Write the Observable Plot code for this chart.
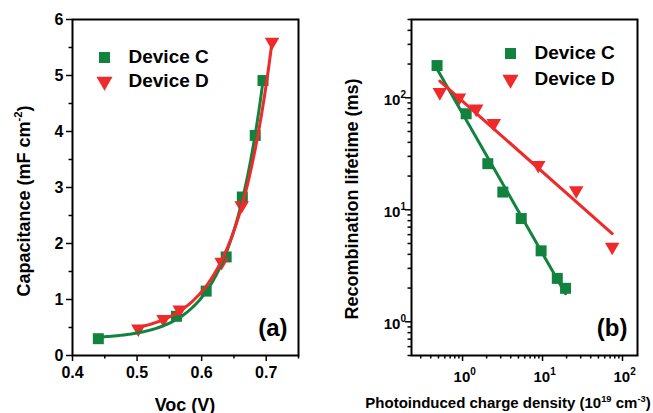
<!DOCTYPE html>
<html><head><meta charset="utf-8">
<script src="https://cdn.jsdelivr.net/npm/d3@7"></script>
<script src="https://cdn.jsdelivr.net/npm/@observablehq/plot@0.6"></script>
<style>
html,body{margin:0;padding:0;background:#fff;}
#wrap{position:relative;width:653px;height:413px;overflow:hidden;}
#wrap svg{position:absolute;top:0;background:transparent;}
</style></head><body><div id="wrap"></div>
<script>
// ---- data ----
const seriesNames = ["Device C", "Device D"];
// panel (a): capacitance vs Voc
const vocC = [0.440, 0.561, 0.607, 0.638, 0.663, 0.683, 0.695];
const capC = [0.30, 0.70, 1.15, 1.76, 2.83, 3.93, 4.91];
const vocD = [0.502, 0.541, 0.566, 0.631, 0.662, 0.709];
const capD = [0.48, 0.65, 0.82, 1.67, 2.68, 5.60];
// panel (b): recombination lifetime vs photoinduced charge density
const densC = [0.48, 1.11, 2.07, 3.19, 5.42, 9.6, 15.3, 19.4];
const lifeC = [194, 72, 25.8, 14.4, 8.35, 4.3, 2.44, 1.99];
const densD = [0.52, 0.90, 1.48, 2.46, 8.84, 26.4, 74.3];
const lifeD = [112, 100, 79.8, 59.4, 25, 14.9, 4.66];
// ticks
const xTicksA = [0.4, 0.5, 0.6, 0.7];
const xMinorA = [0.45, 0.55, 0.65, 0.75];
const yTicksA = [0, 1, 2, 3, 4, 5, 6];
const yMinorA = [0.5, 1.5, 2.5, 3.5, 4.5, 5.5];
const decadesX = [1, 10, 100];
const decadesY = [1, 10, 100];

const green = "#12833f", red = "#ee2a2a";
const font = '"Liberation Sans", Arial, Helvetica, sans-serif';

const rowsC_A = vocC.map((v, i) => ({x: v, y: capC[i]}));
const rowsD_A = vocD.map((v, i) => ({x: v, y: capD[i]}));
const rowsC_B = densC.map((v, i) => ({x: v, y: lifeC[i]}));
const rowsD_B = densD.map((v, i) => ({x: v, y: lifeD[i]}));

// exponential fit  y = a + b*exp(x/t)  (least squares, grid over t)
function expFit(xs, ys) {
  let best = null;
  for (let t = 0.01; t <= 0.3; t += 0.0005) {
    const e = xs.map(x => Math.exp(x / t));
    const me = d3.mean(e), my = d3.mean(ys);
    let sxy = 0, sxx = 0;
    e.forEach((ei, i) => { sxy += (ei - me) * (ys[i] - my); sxx += (ei - me) ** 2; });
    const b = sxy / sxx, a = my - b * me;
    const sse = d3.sum(e, (ei, i) => (a + b * ei - ys[i]) ** 2);
    if (!best || sse < best.sse) best = {a, b, t, sse};
  }
  const lo = d3.min(xs), hi = d3.max(xs);
  return d3.range(121).map(i => {
    const x = lo + (hi - lo) * i / 120;
    return {x, y: best.a + best.b * Math.exp(x / best.t)};
  });
}
// power-law fit (linear regression in log-log space)
function powFit(xs, ys) {
  const lx = xs.map(Math.log10), ly = ys.map(Math.log10);
  const mx = d3.mean(lx), my = d3.mean(ly);
  let sxy = 0, sxx = 0;
  lx.forEach((v, i) => { sxy += (v - mx) * (ly[i] - my); sxx += (v - mx) ** 2; });
  const s = sxy / sxx;
  return [d3.min(xs), d3.max(xs)].map(x => ({x, y: 10 ** (my + s * (Math.log10(x) - mx))}));
}

const fitCA = expFit(vocC, capC), fitDA = expFit(vocD, capD);
const fitCB = powFit(densC, lifeC), fitDB = powFit(densD, lifeD);

const sqR = 6.2, triR = 5.4;

function legendMarks(dx, dyC, dyD, tdx) {
  return [
    Plot.dot([0], {frameAnchor: "top-left", dx, dy: dyC, symbol: "square", r: sqR, fill: green}),
    Plot.dot([0], {frameAnchor: "top-left", dx, dy: dyD, symbol: "triangle", rotate: 180, r: triR + 0.6, fill: red}),
    Plot.text([seriesNames[0]], {frameAnchor: "top-left", dx: tdx, dy: dyC - 1, text: d => d, textAnchor: "start", lineAnchor: "middle", fontSize: 19, fontWeight: "bold", fontFamily: font, fill: "black"}),
    Plot.text([seriesNames[1]], {frameAnchor: "top-left", dx: tdx, dy: dyD - 1, text: d => d, textAnchor: "start", lineAnchor: "middle", fontSize: 19, fontWeight: "bold", fontFamily: font, fill: "black"})
  ];
}

const axisStyle = {strokeWidth: 1.5, fontFamily: font, fontWeight: "bold", fontSize: 16, fill: "black", label: null};
const tickOnly = {strokeWidth: 1.5, fill: "none", label: null};

const plotA = Plot.plot({
  width: 330, height: 413,
  marginLeft: 72, marginRight: 32, marginTop: 19, marginBottom: 58,
  style: {fontFamily: font, background: "transparent"},
  x: {domain: [0.4, 0.75], label: null},
  y: {domain: [0, 6], label: null},
  marks: [
    Plot.axisX(xMinorA, {...tickOnly, tickSize: 3.5}),
    Plot.axisX(xTicksA, {...axisStyle, tickSize: 6, tickPadding: 5, tickFormat: d3.format(".1f")}),
    Plot.axisY(yMinorA, {...tickOnly, tickSize: 3.5}),
    Plot.axisY(yTicksA, {...axisStyle, tickSize: 6, tickPadding: 3, tickFormat: d3.format("d")}),
    Plot.dot(rowsC_A, {x: "x", y: "y", symbol: "square", r: sqR, fill: green}),
    Plot.dot(rowsD_A, {x: "x", y: "y", symbol: "triangle", rotate: 180, r: triR, fill: red}),
    Plot.line(fitCA, {x: "x", y: "y", stroke: green, strokeWidth: 3}),
    Plot.line(fitDA, {x: "x", y: "y", stroke: red, strokeWidth: 3}),
    Plot.frame({stroke: "black", strokeWidth: 2}),
    ...legendMarks(32, 38, 62, 56),
    Plot.text(["(a)"], {frameAnchor: "bottom-right", dx: -11, dy: -27, text: d => d, textAnchor: "end", lineAnchor: "middle", fontSize: 24, fontWeight: "bold", fontFamily: font, fill: "black"})
  ]
});

const minorLog = (dom) => [0.1, 1, 10, 100].flatMap(d => d3.range(2, 10).map(k => +(k * d).toPrecision(3))).filter(v => v >= dom[0] && v <= dom[1]);
const xDomB = [0.23, 154], yDomB = [0.5, 500];

const plotB = Plot.plot({
  width: 323, height: 413,
  marginLeft: 81, marginRight: 16, marginTop: 19, marginBottom: 58,
  style: {fontFamily: font, background: "transparent"},
  x: {type: "log", domain: xDomB, label: null},
  y: {type: "log", domain: yDomB, label: null},
  marks: [
    Plot.axisX(minorLog(xDomB), {...tickOnly, tickSize: 3.5}),
    Plot.axisX(decadesX, {...tickOnly, tickSize: 6}),
    Plot.axisY(minorLog(yDomB), {...tickOnly, tickSize: 3.5}),
    Plot.axisY(decadesY, {...tickOnly, tickSize: 6}),
    Plot.dot(rowsC_B, {x: "x", y: "y", symbol: "square", r: sqR, fill: green}),
    Plot.dot(rowsD_B, {x: "x", y: "y", symbol: "triangle", rotate: 180, r: triR, fill: red}),
    Plot.line(fitCB, {x: "x", y: "y", stroke: green, strokeWidth: 3}),
    Plot.line(fitDB, {x: "x", y: "y", stroke: red, strokeWidth: 3}),
    Plot.frame({stroke: "black", strokeWidth: 2}),
    ...legendMarks(99, 34, 60, 123),
    Plot.text(["(b)"], {frameAnchor: "bottom-right", dx: -10, dy: -27, text: d => d, textAnchor: "end", lineAnchor: "middle", fontSize: 24, fontWeight: "bold", fontFamily: font, fill: "black"})
  ]
});

const wrap = document.getElementById("wrap");
plotA.style.left = "0px";
plotB.style.left = "330px";
wrap.appendChild(plotA);
wrap.appendChild(plotB);

// rich text helper (superscripts)
function richText(svg, x, y, parts, size, opts = {}) {
  const t = d3.select(svg).append("text")
    .attr("transform", `translate(${x},${y}) rotate(${opts.rotate || 0})`)
    .attr("text-anchor", opts.anchor || "middle")
    .attr("font-family", font).attr("font-weight", "bold")
    .attr("font-size", size).attr("fill", "black");
  let shift = 0;
  parts.forEach(p => {
    const sp = t.append("tspan");
    if (typeof p === "string") {
      sp.text(p);
      if (shift) { sp.attr("dy", shift); shift = 0; }
    } else {
      const rise = p.rise || size * 0.42;
      sp.text(p.sup).attr("font-size", p.size || size * 0.62).attr("dy", -rise);
      shift = rise;
    }
  });
  return t;
}

// axis titles
richText(plotA, 185, 410.5, ["Voc (V)"], 18);
richText(plotA, 30, 201, ["Capacitance (mF cm", {sup: "-2"}, ")"], 18, {rotate: -90});
richText(plotB, 178, 408, ["Photoinduced charge density (10", {sup: "19"}, " cm", {sup: "-3"}, ")"], 15);
richText(plotB, 28, 199, ["Recombination lifetime (ms)"], 18, {rotate: -90});

// log tick labels with superscripts, positioned by Plot's scales
const sx = plotB.scale("x"), sy = plotB.scale("y");
decadesX.forEach(v => {
  richText(plotB, sx.apply(v) - 8.5, 381.5, ["10", {sup: String(Math.round(Math.log10(v))), size: 10, rise: 7}], 15, {anchor: "start"});
});
decadesY.forEach(v => {
  richText(plotB, 406 - 330, sy.apply(v) + 7.5, ["10", {sup: String(Math.round(Math.log10(v))), size: 10, rise: 7}], 15, {anchor: "end"});
});
</script></body></html>
